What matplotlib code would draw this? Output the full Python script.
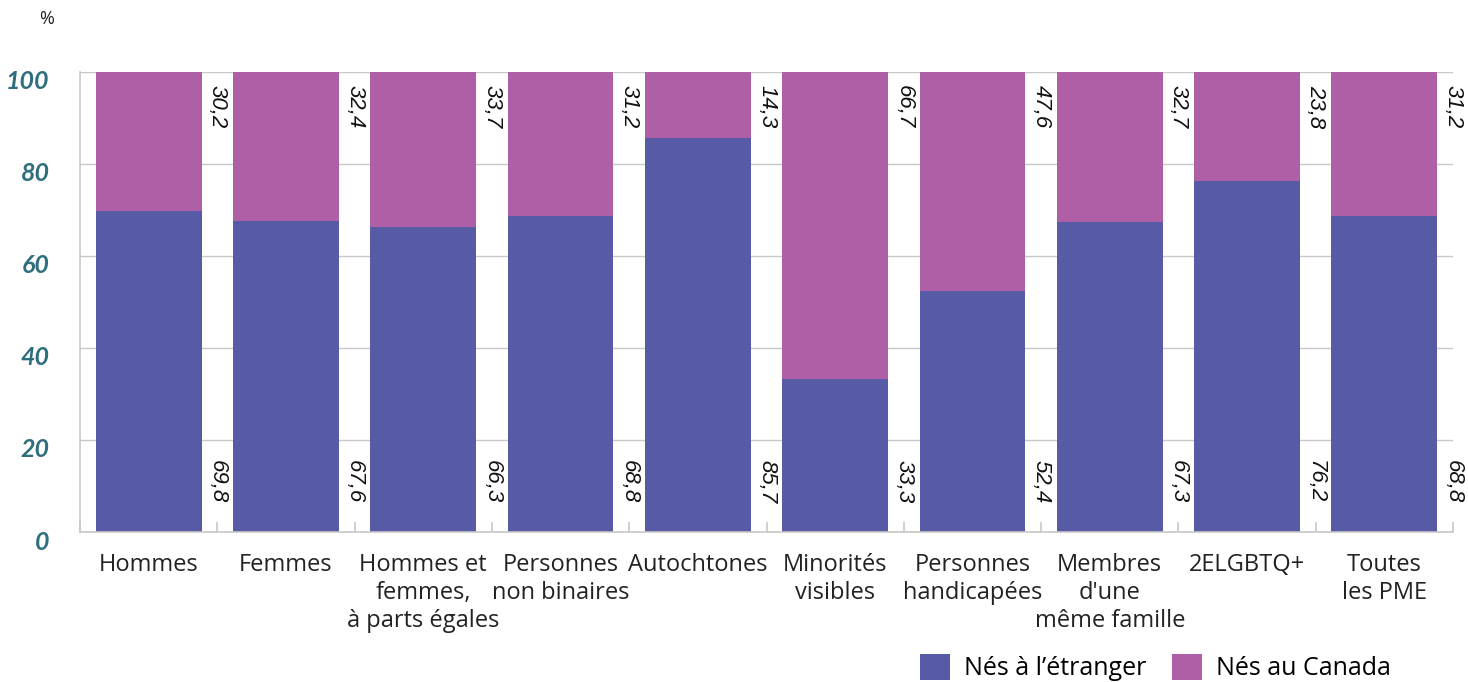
import numpy as np
import matplotlib.pyplot as plt
from matplotlib.transforms import ScaledTranslation

# Données
categories = ['Hommes', 'Femmes', 'Hommes et\nfemmes,\nà parts égales',
              'Personnes\nnon binaires', 'Autochtones', 'Minorités\nvisibles',
              'Personnes\nhandicapées', "Membres\nd'une\nmême famille",
              '2ELGBTQ+', 'Toutes\nles PME']
nes_etranger = [69.8, 67.6, 66.3, 68.8, 85.7, 33.3, 52.4, 67.3, 76.2, 68.8]
nes_canada = [30.2, 32.4, 33.7, 31.2, 14.3, 66.7, 47.6, 32.7, 23.8, 31.2]
yticks = [0, 20, 40, 60, 80, 100]

bleu = '#575BA5'
violet = '#AE5FA5'
teal = '#2F6E7E'
gris = '#C8C8C8'

fig = plt.figure(figsize=(14.68, 6.82), dpi=100)
ax = fig.add_axes([80 / 1468, 1 - 532 / 682, 1373 / 1468, 460 / 682])

x = np.arange(len(categories))
b1 = ax.bar(x, nes_etranger, width=0.77, color=bleu, label='Nés à l’étranger', zorder=2)
b2 = ax.bar(x, nes_canada, width=0.77, bottom=nes_etranger, color=violet,
            label='Nés au Canada', zorder=2)

ax.set_xlim(-0.5, len(categories) - 0.5)
ax.set_ylim(0, 100)
ax.set_yticks(yticks)
ax.yaxis.grid(True, color=gris, linewidth=1, zorder=0)
ax.set_axisbelow(True)

for s in ['top', 'right']:
    ax.spines[s].set_visible(False)
for s in ['left', 'bottom']:
    ax.spines[s].set_color(gris)
    ax.spines[s].set_linewidth(1.2)

# étiquettes de valeurs, dans l'espace à droite de chaque barre
for i in range(len(categories)):
    ax.text(i + 0.5, 97.2, f'{nes_canada[i]:.1f}'.replace('.', ','),
            rotation=-90, ha='center', va='top', fontsize=16,
            style='italic', family='Liberation Sans', color='#111111', zorder=3)
    ax.text(i + 0.5, 6.3, f'{nes_etranger[i]:.1f}'.replace('.', ','),
            rotation=-90, ha='center', va='bottom', fontsize=16,
            style='italic', family='Liberation Sans', color='#111111', zorder=3)

ax.set_xticks(x)
ax.set_xticklabels(categories, fontsize=17, family='Open Sans', color='#222222',
                   linespacing=1.22)
ax.set_xticks(np.arange(-0.5, len(categories)), minor=True)
ax.tick_params(axis='x', which='major', length=0, pad=15)
ax.tick_params(axis='x', which='minor', direction='in', length=7.5, color=gris, width=1.2)

ax.set_yticklabels([str(v) for v in yticks], fontsize=18, family='Lato',
                   fontweight='bold', style='italic', color=teal)
ax.tick_params(axis='y', length=0, pad=22)
decal = ScaledTranslation(0, -8 / 100, fig.dpi_scale_trans)
for lab in ax.get_yticklabels():
    lab.set_transform(lab.get_transform() + decal)

fig.text(47 / 1468, 1 - 19 / 682, '%', fontsize=13, family='Open Sans',
         ha='center', va='center', color='#222222')

fig.legend(handles=[b1, b2], loc='upper left',
           bbox_to_anchor=(920 / 1468, 1 - 654 / 682), ncol=2, frameon=False,
           prop={'family': 'Open Sans', 'size': 18},
           handlelength=1.2, handleheight=1.2, handletextpad=0.55,
           columnspacing=1.05, borderpad=0, borderaxespad=0)

fig.savefig('out.png', dpi=100)
